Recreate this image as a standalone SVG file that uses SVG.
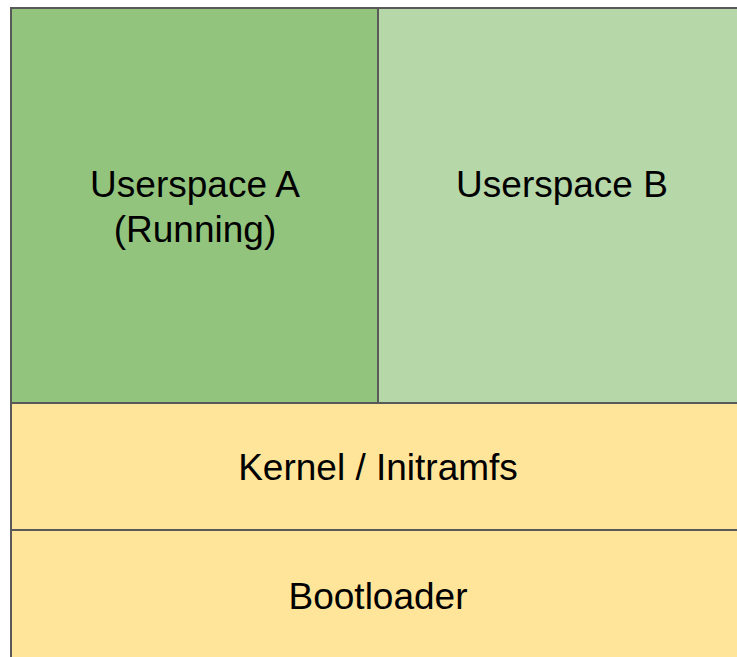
<svg xmlns="http://www.w3.org/2000/svg" width="737" height="657" viewBox="0 0 737 657">
<style>
.box{stroke:#595959;stroke-width:2}
.t{font-family:"Liberation Sans",Arial,sans-serif;font-size:37px;fill:#000;text-anchor:middle}
</style>
<rect width="737" height="657" fill="#fff"/>
<g id="userspace-a"><rect class="box" x="11" y="8" width="367" height="395" fill="#93c47d"/>
<text class="t" x="195" y="197">Userspace A</text><text class="t" x="195" y="242">(Running)</text></g>
<g id="userspace-b"><rect class="box" x="378" y="8" width="370" height="395" fill="#b6d7a8"/>
<text class="t" x="562" y="197">Userspace B</text></g>
<g id="kernel"><rect class="box" x="11" y="403" width="737" height="127" fill="#ffe599"/>
<text class="t" x="378" y="480">Kernel / Initramfs</text></g>
<g id="bootloader"><rect class="box" x="11" y="530" width="737" height="140" fill="#ffe599"/>
<text class="t" x="378" y="609">Bootloader</text></g>
<g id="connectors"/>
</svg>
